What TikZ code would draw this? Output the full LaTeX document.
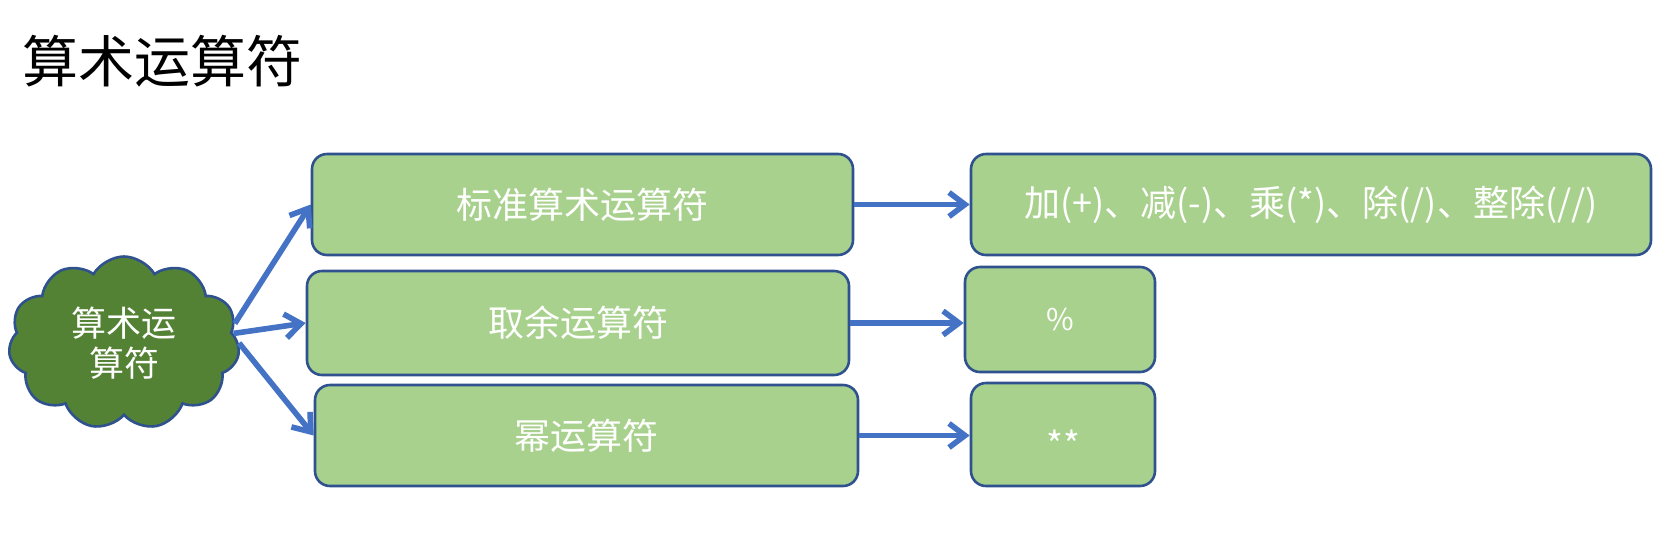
\documentclass[tikz,border=0pt]{standalone}
\usepackage{fontspec}
\setmainfont{Noto Sans CJK SC}
\usetikzlibrary{shapes,arrows.meta}
\definecolor{op_green}{RGB}{169, 209, 142}
\definecolor{op_dark}{RGB}{84, 130, 53}
\definecolor{op_line}{RGB}{47, 82, 143}
\definecolor{op_blue}{RGB}{68, 114, 196}
\tikzstyle{bx}=[rectangle,rounded corners=7.5pt,fill=op_green,draw=op_line,
  line width=1.3pt,text=white,inner sep=0pt,font=\fontsize{18}{22}\selectfont]
\tikzstyle{cl}=[cloud,cloud puffs=11,cloud puff arc=120,aspect=1.33,fill=op_dark,
  draw=op_line,line width=1.3pt,text=white,align=center,inner sep=0pt,
  minimum width=115.5pt,minimum height=86.5pt,font=\fontsize{17.5}{20}\selectfont]
\tikzstyle{arr}=[draw=op_blue,line width=2.8pt,-{Straight Barb[length=8pt,width=12pt]}]

\begin{document}
\begin{tikzpicture}[x=0.5pt,y=-0.5pt]
    \useasboundingbox (0,0) rectangle (1668,542);
    \node [anchor=west,inner sep=0pt,font=\fontsize{28}{32}\selectfont] (title) at (22,61) {算术运算符};
    \node [style=cl] (ops) at (124,343) {算术运\\算符};
    \node [style=bx,minimum width=270.5pt,minimum height=50.5pt] (std) at (582.5,204.5) {标准算术运算符};
    \node [style=bx,minimum width=271pt,minimum height=52pt] (mod) at (578,323) {取余运算符};
    \node [style=bx,minimum width=271.5pt,minimum height=50.5pt] (pow) at (586.5,435.5) {幂运算符};
    \node [style=bx,minimum width=340pt,minimum height=50.5pt] (stdv) at (1311,204.5) {加(+)、减(-)、乘(*)、除(/)、整除(//)};
    \node [style=bx,minimum width=95pt,minimum height=52.5pt,font=\fontsize{15}{18}\selectfont] (modv) at (1060,319.5) {\%};
    \node [style=bx,minimum width=92pt,minimum height=51.5pt] (powv) at (1063,434.5) {\raisebox{-12pt}[0pt][0pt]{**}};
    \draw [style=arr] (ops.10) to (std.west);
    \draw [style=arr] (ops.5) to (mod.west);
    \draw [style=arr] (ops.0) to (pow.west);
    \draw [style=arr] (std.east) to (stdv.west);
    \draw [style=arr] (mod.east) to (mod.east -| modv.west);
    \draw [style=arr] (pow.east) to (pow.east -| powv.west);
  \end{tikzpicture}
\end{document}
